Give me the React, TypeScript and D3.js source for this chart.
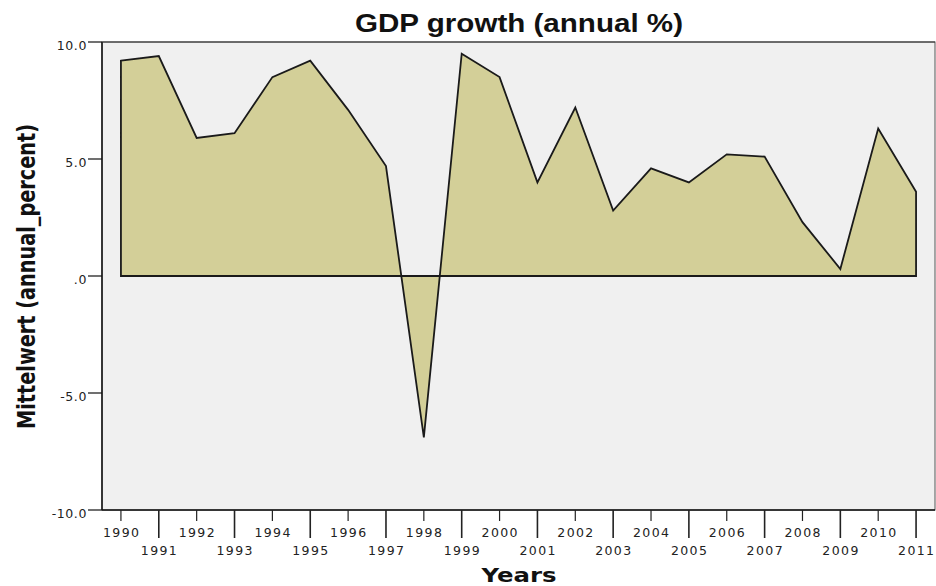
import React from "react";
import * as d3 from "d3";

const years = [1990,1991,1992,1993,1994,1995,1996,1997,1998,1999,2000,2001,2002,2003,2004,2005,2006,2007,2008,2009,2010,2011];
const growth = [9.2,9.4,5.9,6.1,8.5,9.2,7.1,4.7,-6.9,9.5,8.5,4.0,7.2,2.8,4.6,4.0,5.2,5.1,2.3,0.3,6.3,3.6];
const yTickValues = [-10,-5,0,5,10];
const yTickLabels = ["-10.0","-5.0",".0","5.0","10.0"];

const W = 936, H = 586;
const left = 102, right = 935, top = 42, bottom = 510;

export default function App() {
  const x = d3.scalePoint<number>().domain(years).range([left, right]).padding(0.5);
  const y = d3.scaleLinear().domain([-10, 10]).range([bottom, top]);
  const data = years.map((yr, i) => ({ yr, v: growth[i] }));
  const area = d3.area<{ yr: number; v: number }>()
    .x(d => x(d.yr) as number)
    .y0(y(0))
    .y1(d => y(d.v));
  const path = area(data) as string;
  const tickFont = "'DejaVu Sans', Verdana, sans-serif";
  return (
    <svg width={W} height={H} style={{ position: "absolute", left: 0, top: 0, background: "#fff" }}>
      <rect x={0} y={0} width={W} height={H} fill="#fff" />
      <text x={519} y={32} textAnchor="middle" fontFamily="'Liberation Sans', Arial, sans-serif" fontWeight="bold" fontSize={25} textLength={328} lengthAdjust="spacingAndGlyphs" fill="#111">GDP growth (annual %)</text>
      <rect x={left} y={top} width={right - left} height={bottom - top} fill="#f0f0f0" stroke="#555" strokeWidth={1} />
      <path d={path} fill="#d3cf98" stroke="#1a1a1a" strokeWidth={1.8} strokeLinejoin="miter" />
      <line x1={left} x2={left} y1={top} y2={bottom} stroke="#111" strokeWidth={1.5} />
      <line x1={left} x2={right} y1={bottom} y2={bottom} stroke="#111" strokeWidth={1.5} />
      <line x1={left} x2={right} y1={top} y2={top} stroke="#333" strokeWidth={1.2} />
      {yTickValues.map((v, i) => (
        <g key={v}>
          <line x1={88} x2={left} y1={y(v)} y2={y(v)} stroke="#111" strokeWidth={1.2} />
          <text x={87} y={y(v) + 7.5} textAnchor="end" fontFamily={tickFont} fontSize={12.5} letterSpacing={0.6} fill="#222">{yTickLabels[i]}</text>
        </g>
      ))}
      {years.map((yr, i) => {
        const xx = x(yr) as number;
        const odd = i % 2 === 1;
        return (
          <g key={yr}>
            <line x1={xx} x2={xx} y1={bottom} y2={bottom + (odd ? 28 : 11)} stroke="#222" strokeWidth={odd ? 1.6 : 1.2} />
            <text x={xx} y={odd ? 555 : 536.5} textAnchor="middle" fontFamily={tickFont} fontSize={12.5} textLength={36} lengthAdjust="spacing" fill="#222">{String(yr)}</text>
          </g>
        );
      })}
      <text x={519} y={582} textAnchor="middle" fontFamily="'DejaVu Sans', Verdana, sans-serif" fontWeight="bold" fontSize={20} textLength={75} lengthAdjust="spacingAndGlyphs" fill="#111">Years</text>
      <text transform="translate(35,276.5) rotate(-90)" textAnchor="middle" fontFamily="'DejaVu Sans', Verdana, sans-serif" fontWeight="bold" fontSize={25} textLength={305} lengthAdjust="spacingAndGlyphs" fill="#111">Mittelwert (annual_percent)</text>
    </svg>
  );
}
